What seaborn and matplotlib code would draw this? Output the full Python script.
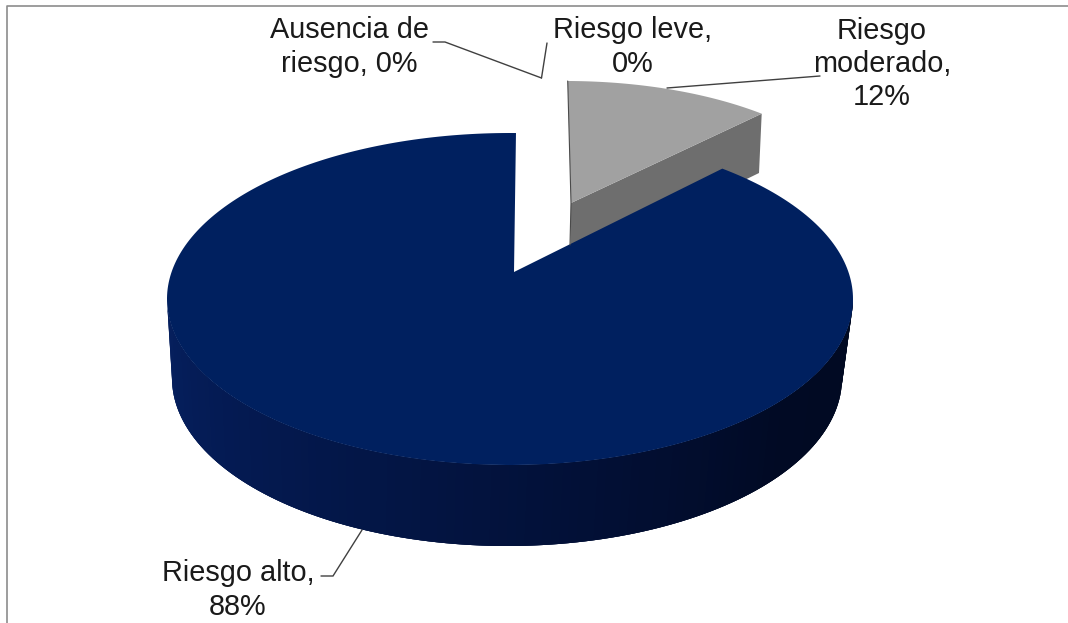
import numpy as np
import matplotlib
matplotlib.use("Agg")
import matplotlib.pyplot as plt
import seaborn as sns

# Risk distribution
categories = ["Ausencia de riesgo", "Riesgo leve", "Riesgo moderado", "Riesgo alto"]
shares = [0, 0, 12, 88]
label_texts = ["Ausencia de\nriesgo, 0%", "Riesgo leve,\n0%", "Riesgo\nmoderado,\n12%", "Riesgo alto,\n88%"]

sns.set_theme(style="white")
plt.rcParams["font.family"] = ["Liberation Sans", "DejaVu Sans"]

W, H = 1068, 623
fig = plt.figure(figsize=(W / 100, H / 100), dpi=100, facecolor="white")
ax = fig.add_axes([0, 0, 1, 1])
ax.set_xlim(0, W)
ax.set_ylim(H, 0)
ax.axis("off")

TOP = "#00205f"
GREY_TOP = "#a1a1a1"
GREY_SIDE = "#6e6e6e"
side_ramp = sns.blend_palette(["#06205f", "#041a52", "#031544", "#020f34", "#010a24", "#010a22"], n_colors=120)


def rim_point(theta_deg, apex, centre, a, b, depth=161.0, lean=0.0):
    """Where a ray from the slice apex, at a pie angle, meets the elliptical rim."""
    th = np.radians(theta_deg)
    dx, dy = 343.0 * np.sin(th) + lean * np.cos(th), -depth * np.cos(th)
    px, py = apex[0] - centre[0], apex[1] - centre[1]
    qa = (dx / a) ** 2 + (dy / b) ** 2
    qb = 2 * (px * dx / a**2 + py * dy / b**2)
    qc = (px / a) ** 2 + (py / b) ** 2 - 1
    t = (-qb + np.sqrt(qb**2 - 4 * qa * qc)) / (2 * qa)
    x, y = apex[0] + t * dx, apex[1] + t * dy
    return np.arctan2((y - centre[1]) / b, (x - centre[0]) / a)


def arc(centre, a, b, phi):
    return centre[0] + a * np.cos(phi), centre[1] + b * np.sin(phi)


cut = 360 * shares[2] / sum(shares)

# Exploded moderate-risk slice: radial cut face, then the top face
g_apex = (571, 203)
g_c, g_a, g_b = (566, 216), 300, 135
g_from = rim_point(0, g_apex, g_c, g_a, g_b, depth=149, lean=-4)
g_to = rim_point(cut, g_apex, g_c, g_a, g_b, depth=149, lean=-4)
phi = np.linspace(g_from, g_to, 60)
gx, gy = arc(g_c, g_a, g_b, phi)
ax.fill([g_apex[0], gx[-1], 759, 570], [g_apex[1], gy[-1], 173, 265], color=GREY_SIDE, lw=0)
ax.fill(np.r_[g_apex[0], gx], np.r_[g_apex[1], gy], color=GREY_TOP, lw=0)
ax.plot([gx[0], g_apex[0], 570], [gy[0], g_apex[1], 245], color="#4a4a4a", lw=0.8)

# High-risk slice: outer wall in overlapping strips, darkening from left to right
b_apex = (514, 272)
t_c, t_a, t_b = (510, 299), 343, 166
w_c, w_a, w_b = (507, 378), 335, 168
wall = np.linspace(np.pi, 0, len(side_ramp) + 1)
tx, ty = arc(t_c, t_a, t_b, wall)
wx, wy = arc(w_c, w_a, w_b, wall)
for i, colour in enumerate(side_ramp):
    j = min(i + 3, len(side_ramp))
    ax.fill(np.r_[tx[i:j + 1], wx[i:j + 1][::-1]], np.r_[ty[i:j + 1], wy[i:j + 1][::-1]],
            facecolor=colour, edgecolor="none", lw=0)

# High-risk slice: top face runs round from the top through the left and bottom
b_from = rim_point(0, b_apex, t_c, t_a, t_b, lean=2.3)
b_to = rim_point(cut, b_apex, t_c, t_a, t_b, lean=2.3)
phi = np.linspace(b_from, b_to - 2 * np.pi if b_to > b_from else b_to, 300)
bx, by = arc(t_c, t_a, t_b, phi)
ax.fill(np.r_[b_apex[0], bx], np.r_[b_apex[1], by], color=TOP, lw=0)

# Leader lines
leader = dict(color="#404040", lw=1.0, solid_joinstyle="miter")
ax.plot([433, 445, 541.5], [42, 42, 78], **leader)
ax.plot([547, 541.5], [43, 78], **leader)
ax.plot([667, 820], [88, 76], **leader)
ax.plot([321, 333, 362], [576, 576, 530], **leader)

# Data labels
label_at = [(349, 47), (633, 47), (882, 64), (238, 590)]
for text, (x, y) in zip(label_texts, label_at):
    ax.text(x, y, text, ha="center", va="center", fontsize=20.8, color="#1a1a1a", linespacing=1.24)

# Chart area border (top and left edges fall inside the canvas)
ax.plot([6.5, 6.5, W], [H, 5.5, 5.5], color="#8c8c8c", lw=1.2)

fig.savefig("out.png", dpi=100, facecolor="white")
